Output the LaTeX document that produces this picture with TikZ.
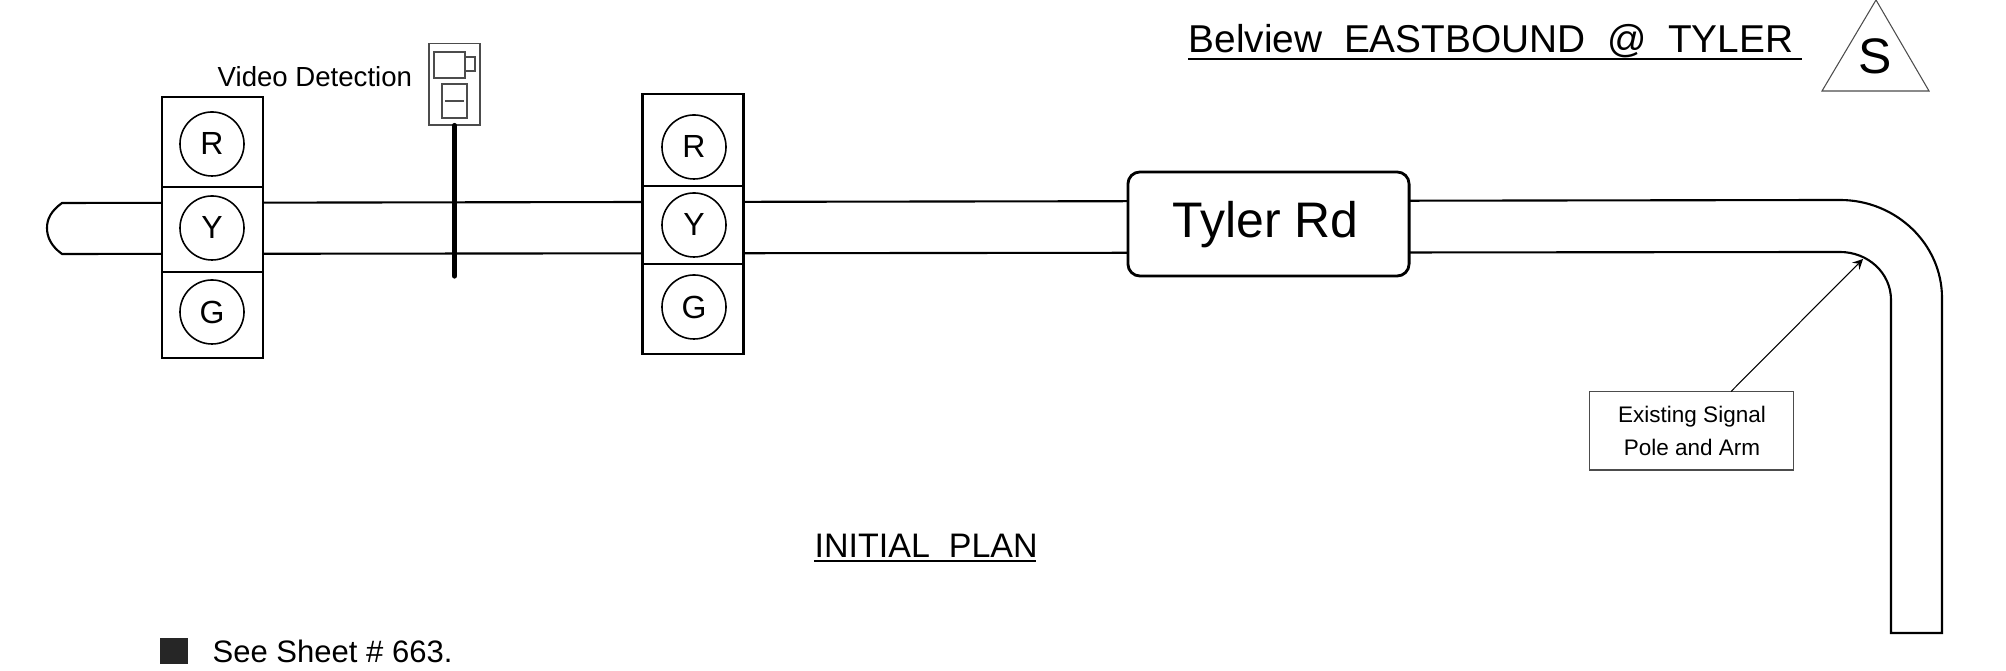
\documentclass[tikz,border=0pt]{standalone}
\usepackage{fontspec}
\setmainfont{Liberation Sans}
\usetikzlibrary{positioning}

\tikzset{
	road/.style={line width=0.6pt},
	cell/.style={draw, fill=white, line width=0.6pt, minimum width=1.01cm, inner sep=0},
	lamp/.style={draw, circle, fill=white, line width=0.45pt, minimum size=0.64cm, inner sep=0, font=\fontsize{9.1}{11}\selectfont},
	thinbox/.style={draw=black!70, line width=0.3pt},
	rule/.style={line width=0.75pt},
	caption/.style={inner sep=0, anchor=base west}
}

\begin{document}
\begin{tikzpicture}[x=0.01cm, y=-0.01cm]
	\useasboundingbox (0,0) rectangle (2006,671);

	% street and arm
	\draw [road] (1840,252) -- (62,254) .. controls (51,246) and (47,237) .. (47,228) .. controls (47,219) and (51,211) .. (62,203) -- (1840,200) .. controls (1896,200) and (1942,244) .. (1942,298) -- (1942,633) -- (1891,633) -- (1891,300) .. controls (1891,273) and (1868,252) .. (1840,252);

	% first head
	\node [cell, minimum height=0.90cm] (redcell1) at (212.5,142) {};
	\node [cell, minimum height=0.85cm] (yellowcell1) at (212.5,229.5) {};
	\node [cell, minimum height=0.86cm] (greencell1) at (212.5,315) {};
	\node [lamp] (red1) at (212,144) {R};
	\node [lamp] (yellow1) at (212,228) {Y};
	\node [lamp] (green1) at (212,312) {G};

	% second head
	\node [cell, minimum height=0.92cm] (redcell2) at (693,140) {};
	\node [cell, minimum height=0.78cm] (yellowcell2) at (693,225) {};
	\node [cell, minimum height=0.90cm] (greencell2) at (693,309) {};
	\node [lamp] (red2) at (694,147) {R};
	\node [lamp] (yellow2) at (694,225) {Y};
	\node [lamp] (green2) at (694,307) {G};

	% video detection
	\node [thinbox, fill=white, minimum width=0.51cm, minimum height=0.81cm, inner sep=0] (housing) at (454.5,84.5) {};
	\coordinate (polefoot) at (454.5,276);
	\draw [line width=1.5pt, line cap=round] (housing.south) -- (polefoot);
	\draw [thinbox] (434,52) rectangle (465,78);
	\draw [thinbox] (465,57) rectangle (475,71);
	\draw [thinbox] (442,84) rectangle (467,118);
	\draw [thinbox] (445,101) -- (464,101);
	\node [caption, font=\fontsize{7.85}{10}\selectfont] (videotext) at (217,87) {Video Detection};

	% street name
	\node [draw, fill=white, line width=0.8pt, rounded corners=0.12cm, minimum width=2.81cm, minimum height=1.04cm, inner sep=0, font=\fontsize{14.2}{17}\selectfont] (tyler) at (1268.5,224) {};
	\node [caption, font=\fontsize{14.2}{17}\selectfont] (tylertext) at (1172,238) {Tyler Rd};

	% title
	\node [caption, font=\fontsize{11.04}{13}\selectfont] (title) at (1188,53) {Belview\ \ EASTBOUND\ \ @\ \ TYLER};
	\draw [rule] (1188,59) -- (1802,59);
	\draw [thinbox] (1876,0) -- (1929,91) -- (1822,91) -- cycle;
	\node [caption, anchor=base, font=\fontsize{14.2}{17}\selectfont] (sign) at (1875,74) {S};

	% callout
	\node [thinbox, fill=white, minimum width=2.03cm, minimum height=0.78cm, inner sep=0] (callout) at (1691.5,431) {};
	\node [caption, anchor=base, font=\fontsize{6.4}{8}\selectfont] (callout1) at (1692,423) {Existing Signal};
	\node [caption, anchor=base, font=\fontsize{6.4}{8}\selectfont] (callout2) at (1692,456) {Pole and Arm};
	\coordinate (armtip) at (1863,259);
	\draw [-stealth, line width=0.3pt] (callout.45) -- (armtip);

	% lower text
	\node [caption, font=\fontsize{9.67}{12}\selectfont] (plan) at (814,558) {INITIAL\ \ PLAN};
	\draw [rule] (814,561) -- (1036,561);
	\node [fill=black!85, minimum width=0.28cm, minimum height=0.26cm, inner sep=0] (marker) at (174,651) {};
	\node [caption, font=\fontsize{8.82}{11}\selectfont] (sheet) at (212,663) {See Sheet \# 663.};
\end{tikzpicture}
\end{document}
